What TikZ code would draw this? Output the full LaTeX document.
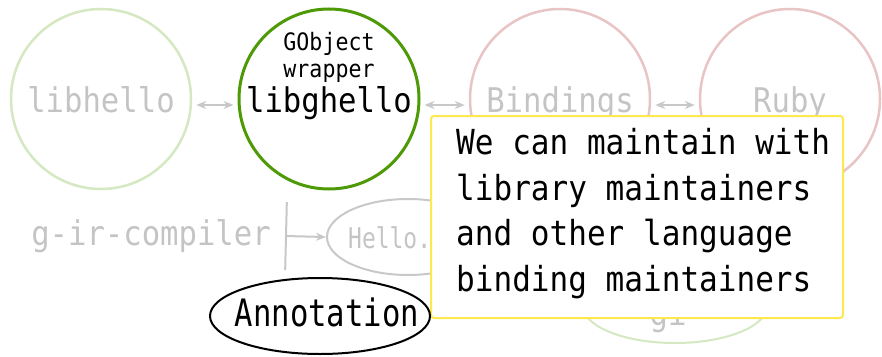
\documentclass[tikz,border=0pt]{standalone}
\usepackage{fontspec}
\setmonofont{DejaVu Sans Mono}[FakeStretch=0.9]
\usetikzlibrary{arrows.meta,shapes.geometric}
\definecolor{palegreen}{HTML}{D4E8C2}
\definecolor{palered}{HTML}{E8C4C4}
\definecolor{leafgreen}{HTML}{4E9A06}
\definecolor{fadedtext}{HTML}{C4C4C4}
\definecolor{fadedline}{HTML}{C8C8C8}
\definecolor{noteyellow}{HTML}{FCE94F}
\begin{document}
\begin{tikzpicture}[x=1pt,y=-1pt,
  big/.style={font=\ttfamily\fontsize{34}{40}\selectfont},
  small/.style={font=\ttfamily\fontsize{24}{28}\selectfont},
  bubble/.style={circle, minimum size=180pt, line width=2.5pt, inner sep=0pt,
    big, text height=30pt, text depth=4pt},
  pill/.style={ellipse, inner sep=0pt, line width=2pt},
  link/.style={draw=fadedline, line width=2pt,
    {Stealth[length=10pt,width=8pt]}-{Stealth[length=10pt,width=8pt]},
    shorten <=4pt, shorten >=4pt},
]
\useasboundingbox (0,0) rectangle (882,356);

% library circles
\node[bubble, draw=palegreen, text=fadedtext] (lib) at (101,99) {libhello};
\node[bubble, draw=leafgreen, line width=3pt] (ghello) at (329,99) {libghello};
\node[small, anchor=base, inner sep=0pt] (gobj) at (329,50) {GObject};
\node[small, anchor=base, inner sep=0pt] (wrap) at (329,77) {wrapper};
\node[bubble, draw=palered, text=fadedtext] (bind) at (560,99) {Bindings};
\node[bubble, draw=palered, text=fadedtext] (ruby) at (790,99) {Ruby};

% links between the circles
\draw[link] ([yshift=-6pt]lib.east) -- ([yshift=-6pt]ghello.west);
\draw[link] ([yshift=-6pt]ghello.east) -- ([yshift=-6pt]bind.west);
\draw[link] ([yshift=-6pt]bind.east) -- ([yshift=-6pt]ruby.west);

% introspection pipeline
\node[big, text=fadedtext, anchor=base, inner sep=0pt] (gir) at (151,245) {g-ir-compiler};
\node[pill, draw=fadedline, minimum width=162pt, minimum height=76pt] (hello) at (408,237) {};
\node[font=\ttfamily\fontsize{25.5}{30}\selectfont, text=fadedtext, anchor=base west,
  inner sep=0pt] (hellotext) at (348,248)
  {\scalebox{1}[1.12]{Hello.gir}};
\coordinate (gbar) at (285,236);
\draw[draw=fadedline, line width=2pt,
  {Bar[width=68pt,line width=2pt]}-{Stealth[length=10pt,width=8pt]}]
  (gbar) -- (hello.west);

\node[pill, draw=palegreen, minimum width=184pt, minimum height=74pt] (gi) at (675,306) {};
\node[big, text=fadedtext, anchor=base, inner sep=0pt] (gitext) at (668,325) {gi};

% note box
\node[draw=noteyellow, fill=white, line width=2pt, rounded corners=3pt,
  minimum width=412pt, minimum height=202pt, anchor=north west, inner sep=0pt]
  (note) at (430,115) {};
\node[font=\ttfamily\fontsize{34.5}{45.7}\selectfont, align=left, anchor=north west,
  inner sep=0pt] (notetext) at (456,128)
  {We can maintain with\\library maintainers\\and other language\\binding maintainers};

% annotation
\node[pill, draw=black, minimum width=220pt, minimum height=76pt] (annot) at (320,316) {};
\node[big, anchor=base, inner sep=0pt] (annottext) at (327,326)
  {\scalebox{1}[1.11]{Annotation}};
\end{tikzpicture}
\end{document}
